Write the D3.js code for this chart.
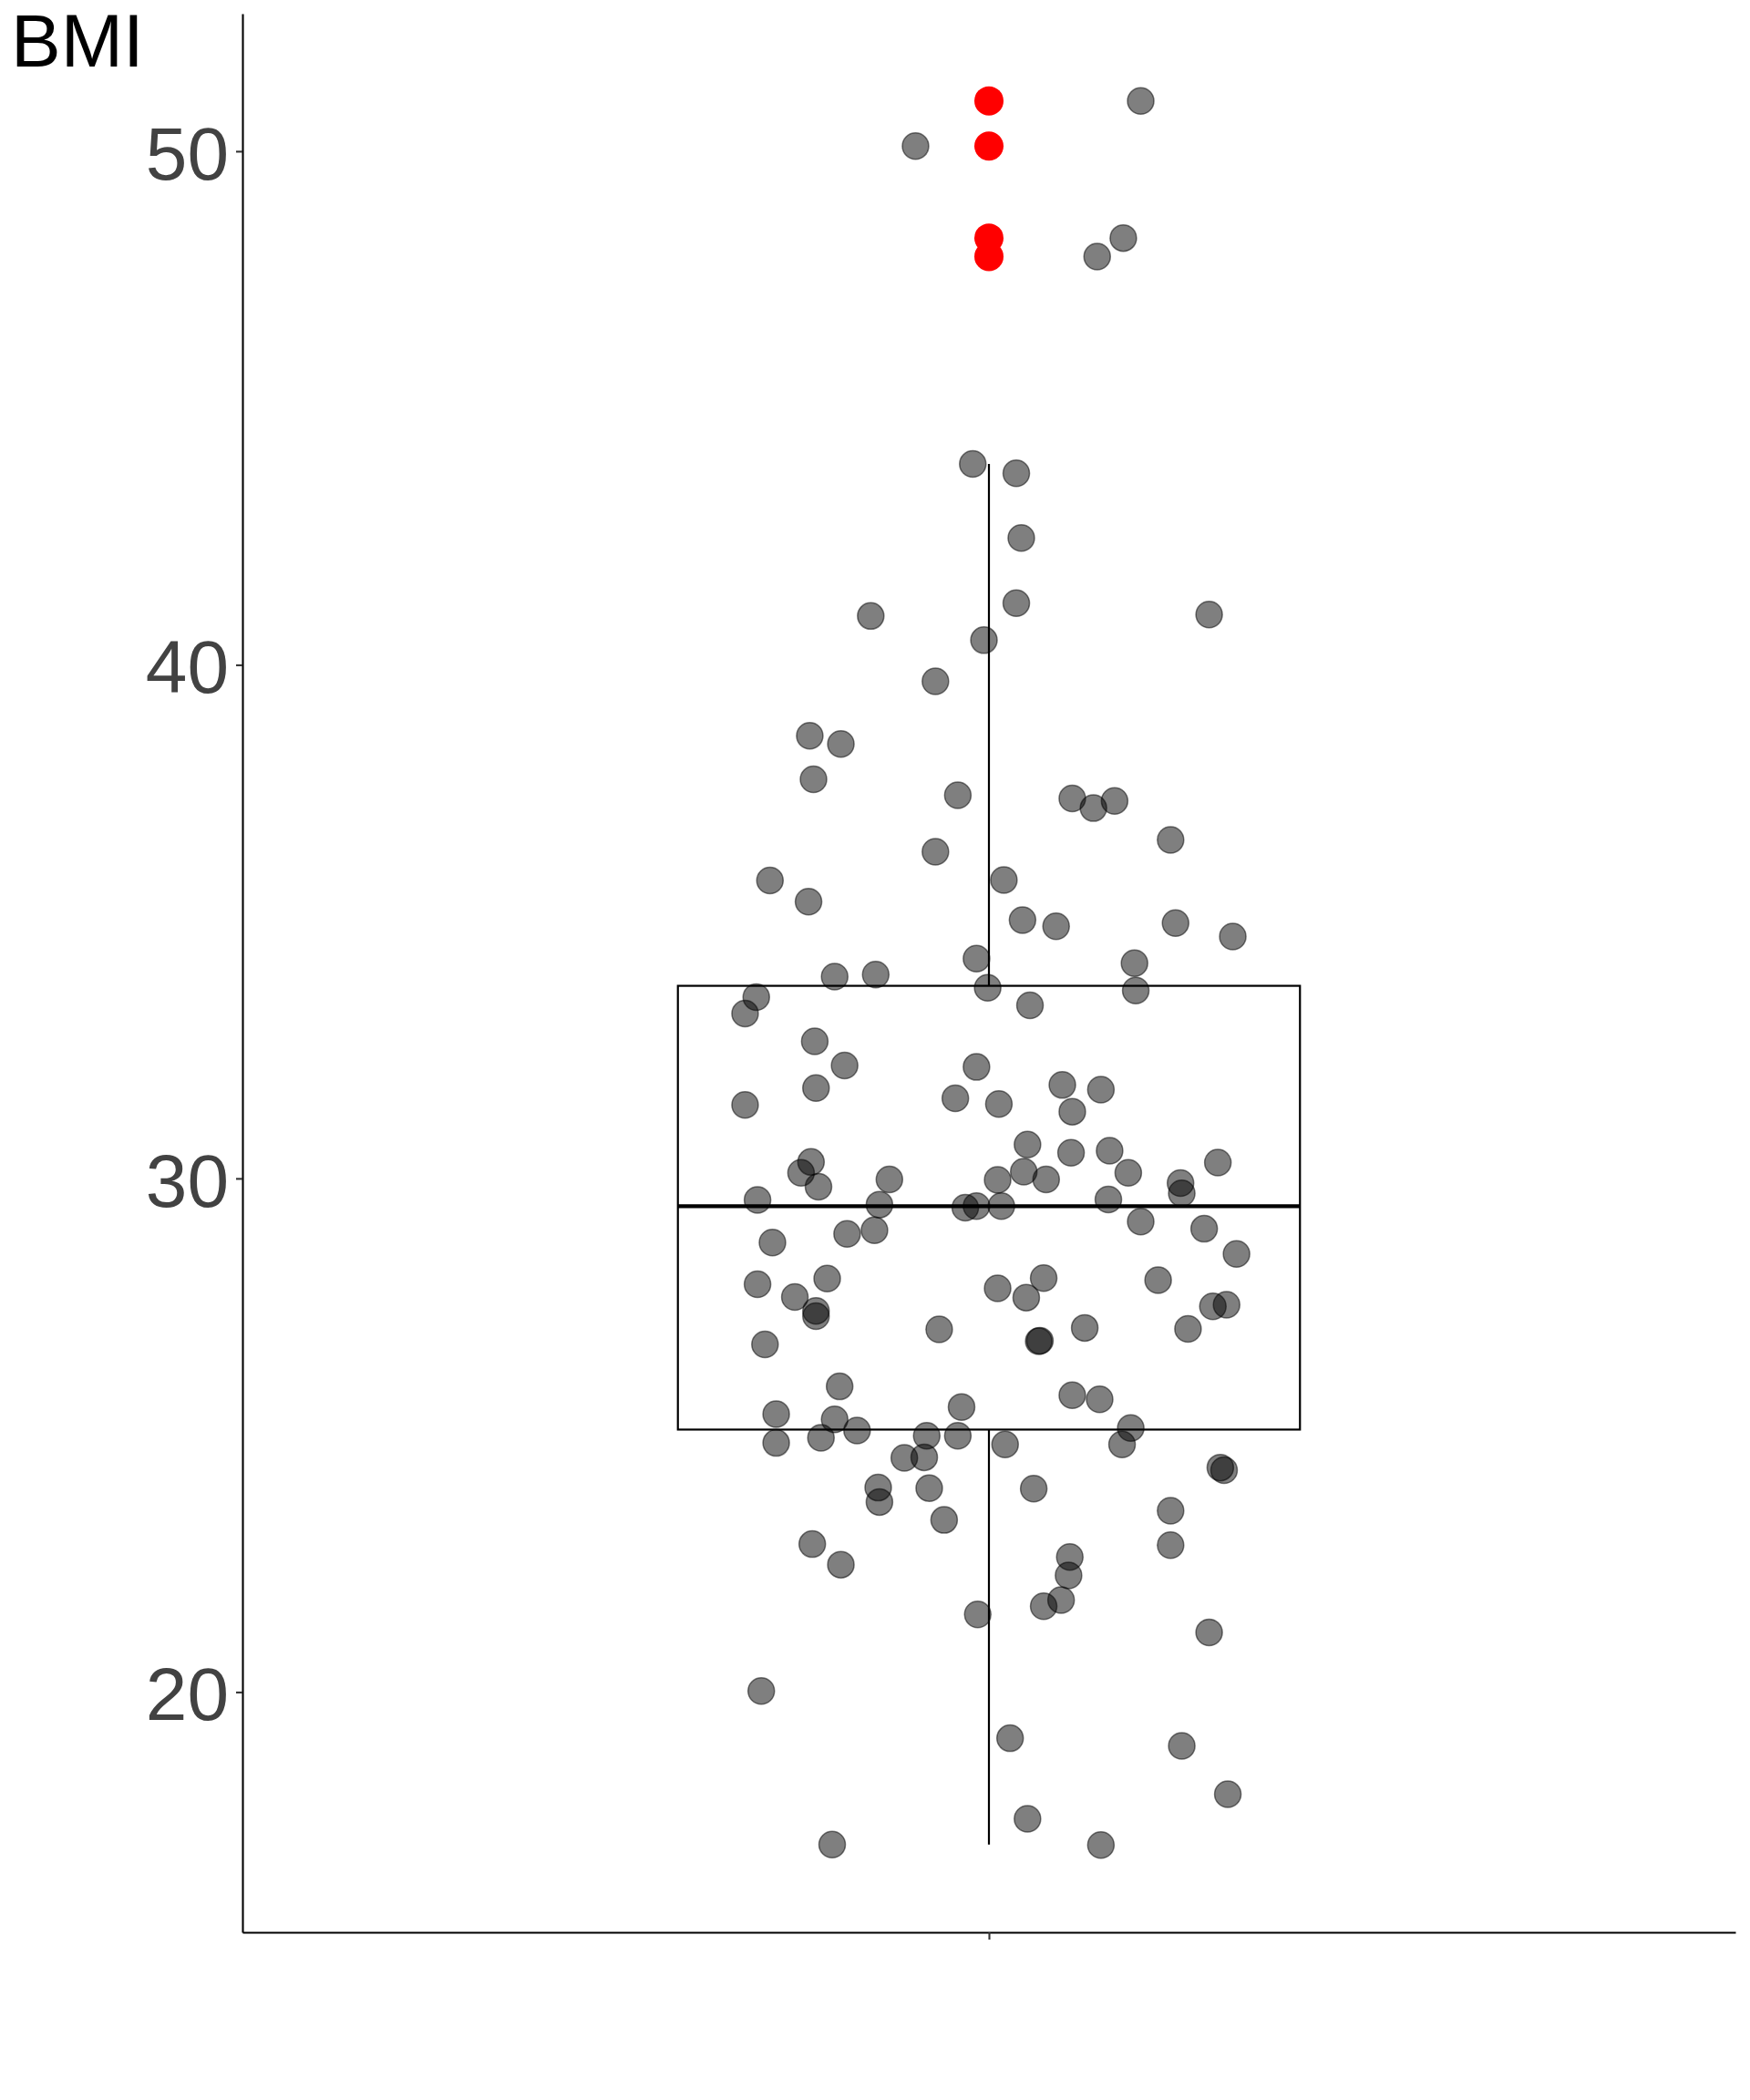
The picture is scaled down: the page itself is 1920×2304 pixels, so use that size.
<!DOCTYPE html>
<html>
<head>
<meta charset="utf-8">
<script src="https://cdn.jsdelivr.net/npm/d3@7"></script>
<style>
  html, body { margin: 0; padding: 0; background: #ffffff; }
  svg { display: block; }
</style>
</head>
<body>
<svg id="chart" width="1920" height="2304"></svg>
<script>
// ---- data ----
const yLabel = "BMI";
const yTicks = [20, 30, 40, 50];
const categoryPos = [1];
// box statistics: lower whisker, Q1, median, Q3, upper whisker
const boxStats = [17.03, 25.11, 29.46, 33.75, 43.91];

const bmiValues = [
  50.10, 50.98, 48.31, 47.95, 43.91, 43.73, 42.47, 41.20, 40.95, 40.98,
  40.48, 39.68, 38.62, 38.46, 37.77, 37.46, 37.40, 37.21, 37.35, 36.59,
  36.36, 35.80, 35.81, 35.39, 35.03, 34.91, 34.97, 34.71, 34.28, 34.19,
  33.93, 33.97, 33.53, 33.21, 33.71, 33.66, 33.37, 32.67, 32.20, 31.76,
  31.43, 32.17, 31.56, 31.45, 31.82, 31.73, 31.30, 30.66, 30.50, 30.54,
  30.31, 30.32, 30.11, 29.84, 29.98, 30.13, 29.97, 29.98, 30.11, 29.91,
  29.71, 29.58, 29.49, 29.43, 29.46, 29.46, 29.59, 29.16, 29.02, 28.53,
  28.75, 28.92, 28.99, 27.94, 27.69, 28.05, 27.86, 27.68, 28.06, 28.02,
  27.51, 27.54, 27.42, 27.32, 26.77, 27.06, 26.83, 26.84, 27.09, 27.07,
  25.95, 25.41, 25.31, 25.09, 25.55, 25.78, 25.70, 25.14, 24.82, 24.85,
  24.95, 24.99, 24.99, 24.82, 24.56, 24.57, 24.37, 24.32, 23.98, 23.70,
  23.97, 23.96, 23.35, 23.53, 22.86, 22.88, 22.48, 22.63, 22.27, 21.67,
  21.79, 21.51, 21.16, 20.02, 19.10, 18.95, 18.01, 17.53, 17.03, 17.02
];

const jitterX = [
  0.941, 1.122, 1.108, 1.087, 0.987, 1.022, 1.026, 1.022, 0.905, 1.177,
  0.996, 0.957, 0.856, 0.881, 0.859, 0.975, 1.067, 1.084, 1.101, 1.146,
  0.957, 0.824, 1.012, 0.855, 1.027, 1.054, 1.150, 1.196, 0.990, 1.117,
  0.876, 0.909, 0.813, 0.804, 0.999, 1.118, 1.033, 0.860, 0.884, 0.861,
  0.804, 0.990, 0.973, 1.008, 1.059, 1.090, 1.067, 1.031, 1.066, 1.097,
  1.184, 0.857, 0.849, 0.863, 0.920, 1.028, 1.007, 1.046, 1.112, 1.154,
  1.155, 0.814, 0.912, 0.981, 0.990, 1.010, 1.096, 1.122, 1.173, 1.199,
  0.826, 0.886, 0.908, 0.814, 0.844, 0.870, 1.007, 1.030, 1.044, 1.136,
  1.180, 1.191, 0.861, 0.861, 0.820, 0.960, 1.040, 1.041, 1.077, 1.160,
  0.880, 0.829, 0.876, 0.894, 0.978, 1.067, 1.089, 1.114, 1.107, 0.829,
  0.865, 0.950, 0.975, 1.013, 0.932, 0.948, 1.186, 1.189, 0.911, 0.912,
  0.952, 1.036, 0.964, 1.146, 1.146, 0.858, 0.881, 1.065, 1.064, 1.044,
  1.058, 0.991, 1.177, 0.817, 1.017, 1.155, 1.192, 1.031, 0.874, 1.090
];

// ---- layout ----
const svg = d3.select("#chart");
svg.append("rect").attr("width", 1920).attr("height", 2304).attr("fill", "#ffffff");

const mLeft = 266, mRight = 1904, mTop = 15, mBottom = 2120;
const fontFam = "'Liberation Sans', Arial, Helvetica, sans-serif";

const ext = d3.extent(bmiValues);
const pad = (ext[1] - ext[0]) * 0.05;
const y = d3.scaleLinear().domain([ext[0] - pad, ext[1] + pad]).range([mBottom, mTop]);
const x = d3.scaleLinear().domain([0.4, 1.6]).range([mLeft, mRight]);

const [wLo, q1, med, q3, wHi] = boxStats;
const iqr = q3 - q1;
const outliers = bmiValues.filter(v => v > q3 + 1.5 * iqr || v < q1 - 1.5 * iqr);

// ---- boxplot ----
const boxW = 0.5;
const g = svg.append("g");
g.append("line")
  .attr("x1", x(1)).attr("x2", x(1)).attr("y1", y(q3)).attr("y2", y(wHi))
  .attr("stroke", "#000").attr("stroke-width", 2.2);
g.append("line")
  .attr("x1", x(1)).attr("x2", x(1)).attr("y1", y(q1)).attr("y2", y(wLo))
  .attr("stroke", "#000").attr("stroke-width", 2.2);
g.append("rect")
  .attr("x", x(1 - boxW / 2)).attr("width", x(1 + boxW / 2) - x(1 - boxW / 2))
  .attr("y", y(q3)).attr("height", y(q1) - y(q3))
  .attr("fill", "#ffffff").attr("stroke", "#000").attr("stroke-width", 2.2);
g.append("line")
  .attr("x1", x(1 - boxW / 2)).attr("x2", x(1 + boxW / 2))
  .attr("y1", y(med)).attr("y2", y(med))
  .attr("stroke", "#000").attr("stroke-width", 4.4);

g.selectAll("circle.out").data(outliers).join("circle")
  .attr("class", "out")
  .attr("cx", x(1)).attr("cy", d => y(d)).attr("r", 16)
  .attr("fill", "#ff0000");

// ---- jittered points ----
svg.append("g").selectAll("circle").data(bmiValues).join("circle")
  .attr("cx", (d, i) => x(jitterX[i]))
  .attr("cy", d => y(d))
  .attr("r", 14.5)
  .attr("fill", "#000").attr("fill-opacity", 0.5)
  .attr("stroke", "#000").attr("stroke-opacity", 0.5).attr("stroke-width", 1.5);

// ---- axes ----
const yAxis = svg.append("g").attr("transform", `translate(${mLeft},0)`)
  .call(d3.axisLeft(y).tickValues(yTicks).tickSize(7).tickSizeOuter(0).tickPadding(8));
yAxis.select(".domain").attr("stroke", "#000").attr("stroke-width", 2.1);
yAxis.selectAll(".tick line").attr("stroke", "#333").attr("stroke-width", 2.1);
yAxis.selectAll(".tick text")
  .attr("font-family", fontFam).attr("font-size", 82).attr("fill", "#424242")
  .attr("dy", "0.37em");

const xAxis = svg.append("g").attr("transform", `translate(0,${mBottom})`)
  .call(d3.axisBottom(x).tickValues(categoryPos).tickFormat(() => "").tickSize(8).tickSizeOuter(0));
xAxis.select(".domain").attr("stroke", "#000").attr("stroke-width", 2.1);
xAxis.selectAll(".tick line").attr("stroke", "#333").attr("stroke-width", 2.1);

svg.append("text")
  .attr("x", 12).attr("y", 73)
  .attr("font-family", fontFam).attr("font-size", 82).attr("fill", "#000")
  .text(yLabel);
</script>
</body>
</html>
